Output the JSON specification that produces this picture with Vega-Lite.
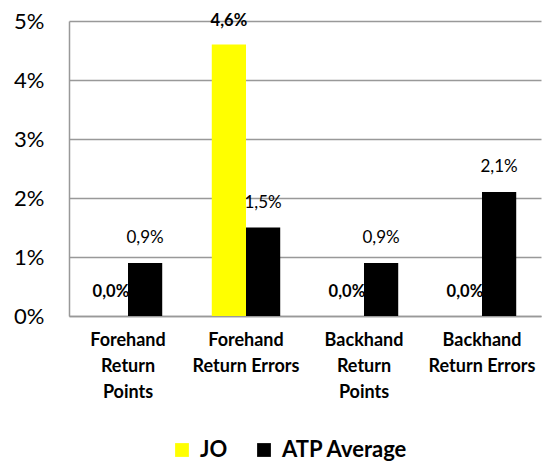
{
  "$schema": "https://vega.github.io/schema/vega-lite/v6.json",
  "width": 472,
  "height": 295,
  "autosize": {"type": "none"},
  "padding": {"left": 69, "top": 21, "right": 2, "bottom": 148},
  "config": {
    "font": "Lato",
    "view": {"stroke": null},
    "locale": {"number": {"decimal": ",", "thousands": ".", "grouping": [3], "currency": ["", " €"]}}
  },
  "data": {
    "values": [
      {"category": "Forehand Return Points", "series": "JO", "value": 0.0},
      {"category": "Forehand Return Points", "series": "ATP Average", "value": 0.009},
      {"category": "Forehand Return Errors", "series": "JO", "value": 0.046},
      {"category": "Forehand Return Errors", "series": "ATP Average", "value": 0.015},
      {"category": "Backhand Return Points", "series": "JO", "value": 0.0},
      {"category": "Backhand Return Points", "series": "ATP Average", "value": 0.009},
      {"category": "Backhand Return Errors", "series": "JO", "value": 0.0},
      {"category": "Backhand Return Errors", "series": "ATP Average", "value": 0.021}
    ]
  },
  "encoding": {
    "x": {
      "field": "category",
      "type": "nominal",
      "sort": ["Forehand Return Points", "Forehand Return Errors", "Backhand Return Points", "Backhand Return Errors"],
      "scale": {"paddingInner": 0.42, "paddingOuter": 0.21},
      "axis": {
        "title": null,
        "labelAngle": 0,
        "ticks": false,
        "domainColor": "#999999",
        "domainWidth": 1.5,
        "labelFontSize": 18,
        "labelFontWeight": "bold",
        "labelColor": "#000000",
        "labelLineHeight": 26,
        "labelPadding": 15,
        "labelLimit": 0,
        "labelExpr": "datum.value == 'Forehand Return Points' ? ['Forehand', 'Return', 'Points'] : datum.value == 'Forehand Return Errors' ? ['Forehand', 'Return Errors'] : datum.value == 'Backhand Return Points' ? ['Backhand', 'Return', 'Points'] : ['Backhand', 'Return Errors']"
      }
    },
    "xOffset": {"field": "series", "type": "nominal", "sort": ["JO", "ATP Average"], "scale": {"paddingInner": 0, "paddingOuter": 0}},
    "y": {
      "field": "value",
      "type": "quantitative",
      "scale": {"domain": [0, 0.05]},
      "axis": {
        "title": null,
        "values": [0, 0.01, 0.02, 0.03, 0.04, 0.05],
        "format": ".0%",
        "ticks": false,
        "grid": true,
        "gridColor": "#999999",
        "gridWidth": 1.5,
        "domainColor": "#999999",
        "domainWidth": 1.5,
        "labelFontSize": 22,
        "labelColor": "#000000",
        "labelPadding": 25
      }
    }
  },
  "layer": [
    {
      "mark": {"type": "bar"},
      "encoding": {
        "color": {
          "field": "series",
          "type": "nominal",
          "sort": ["JO", "ATP Average"],
          "scale": {"domain": ["JO", "ATP Average"], "range": ["#FFFF00", "#000000"]},
          "legend": {
            "title": null,
            "orient": "none",
            "legendX": 102,
            "legendY": 418,
            "direction": "horizontal",
            "symbolType": "square",
            "symbolSize": 190,
            "symbolStrokeWidth": 0,
            "labelFontSize": 22,
            "labelFontWeight": "bold",
            "labelColor": "#000000",
            "labelOffset": 7,
            "columnPadding": 25
          }
        }
      }
    },
    {
      "transform": [{"filter": "datum.series == 'JO'"}],
      "mark": {"type": "text", "dy": -24, "fontSize": 16.5, "fontWeight": "bold", "color": "#000000"},
      "encoding": {"text": {"field": "value", "type": "quantitative", "format": ".1%"}}
    },
    {
      "transform": [{"filter": "datum.series == 'ATP Average'"}],
      "mark": {"type": "text", "dy": -25, "fontSize": 17, "color": "#000000"},
      "encoding": {"text": {"field": "value", "type": "quantitative", "format": ".1%"}}
    }
  ]
}
